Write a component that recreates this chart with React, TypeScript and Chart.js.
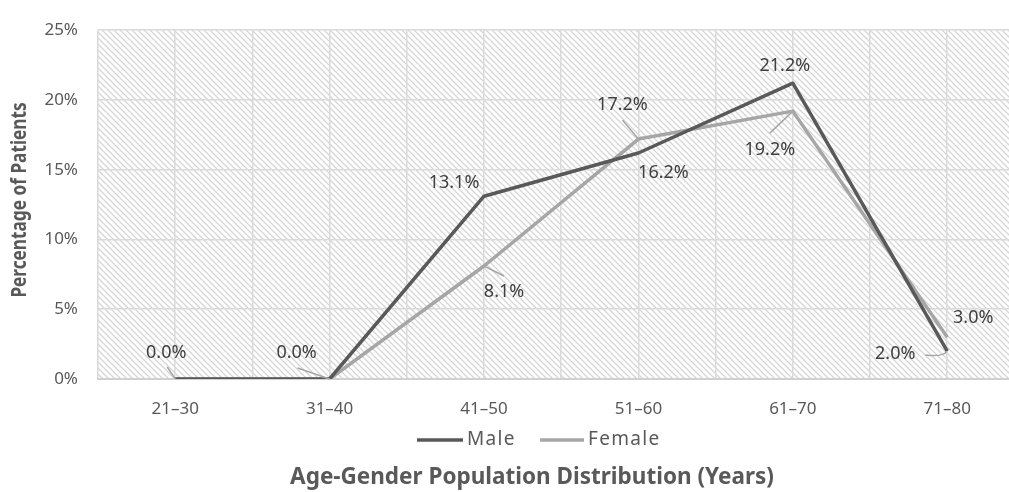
import { useEffect, useRef } from 'react';
import { Chart, registerables } from 'chart.js';

Chart.register(...registerables);

// Age bands and share of patients (%) per gender
const ageGroups = ['21–30', '31–40', '41–50', '51–60', '61–70', '71–80'];
const malePct = [0.0, 0.0, 13.1, 16.2, 21.2, 2.0];
const femalePct = [0.0, 0.0, 8.1, 17.2, 19.2, 3.0];
const yTickValues = [0, 5, 10, 15, 20, 25];

const seriesNames = ['Male', 'Female'];
const seriesColors = ['#595959', '#a6a6a6'];

const xTitle = 'Age-Gender Population Distribution (Years)';
const yTitle = 'Percentage of Patients';

// Data-label placement relative to each point (px); leader = start of callout line
type LabelPlace = { dx: number; dy: number; leader?: [number, number]; curve?: boolean } | null;
const maleLabelPlaces: LabelPlace[] = [
  { dx: -9, dy: -26, leader: [-8, -12] },
  { dx: -33, dy: -26, leader: [-32, -11] },
  { dx: -30, dy: -13 },
  { dx: 25, dy: 20 },
  { dx: -8, dy: -17 },
  { dx: -52, dy: 3, leader: [-22, 4], curve: true },
];
const femaleLabelPlaces: LabelPlace[] = [
  null,
  null,
  { dx: 20, dy: 26, leader: [20, 10] },
  { dx: -16, dy: -34, leader: [-16, -19] },
  { dx: -23, dy: 39, leader: [-23, 22] },
  { dx: 26, dy: -19 },
];

const FONT = "'Noto Sans', 'DejaVu Sans', sans-serif";
const TEXT = '#404040';
const AXIS_TEXT = '#595959';
const GRID = '#dadada';

function makeHatch(): CanvasPattern | string {
  const c = document.createElement('canvas');
  c.width = 6;
  c.height = 6;
  const g = c.getContext('2d');
  if (!g) return '#f2f2f2';
  g.fillStyle = '#ffffff';
  g.fillRect(0, 0, 6, 6);
  g.strokeStyle = '#d6d6d6';
  g.lineWidth = 1.3;
  g.beginPath();
  for (const k of [-6, 0, 6]) {
    g.moveTo(-1, -1 + k);
    g.lineTo(7, 7 + k);
  }
  g.stroke();
  return g.createPattern(c, 'repeat') || '#f2f2f2';
}

const backgroundPlugin = {
  id: 'hatchBackground',
  beforeDraw(chart: any) {
    const { ctx, chartArea, width, height } = chart;
    ctx.save();
    ctx.fillStyle = '#ffffff';
    ctx.fillRect(0, 0, width, height);
    ctx.fillStyle = makeHatch();
    ctx.fillRect(chartArea.left, chartArea.top, chartArea.right - chartArea.left, chartArea.bottom - chartArea.top);
    ctx.restore();
  },
};

const dataLabelPlugin = {
  id: 'valueLabels',
  afterDatasetsDraw(chart: any) {
    const { ctx } = chart;
    const places = [maleLabelPlaces, femaleLabelPlaces];
    ctx.save();
    chart.data.datasets.forEach((ds: any, di: number) => {
      const meta = chart.getDatasetMeta(di);
      meta.data.forEach((pt: any, i: number) => {
        const place = places[di][i];
        if (!place) return;
        const v = ds.data[i].y as number;
        const px = pt.x;
        const py = pt.y;
        if (place.leader) {
          ctx.strokeStyle = '#a6a6a6';
          ctx.lineWidth = 1.5;
          ctx.beginPath();
          const sx = px + place.leader[0];
          const sy = py + place.leader[1];
          ctx.moveTo(sx, sy);
          if (place.curve) {
            ctx.quadraticCurveTo(px - 4, py + 6, px, py);
          } else {
            ctx.lineTo(px, py);
          }
          ctx.stroke();
        }
        ctx.fillStyle = TEXT;
        ctx.font = `18px ${FONT}`;
        ctx.textAlign = 'center';
        ctx.textBaseline = 'middle';
        ctx.fillText(`${v.toFixed(1)}%`, px + place.dx, py + place.dy);
      });
    });
    ctx.restore();
  },
};

const decorPlugin = {
  id: 'legendAndTitles',
  afterDraw(chart: any) {
    const { ctx, chartArea } = chart;
    ctx.save();
    // legend
    const legendY = 440;
    const entries = [
      { x0: 417, x1: 463, tx: 467 },
      { x0: 540, x1: 584, tx: 588 },
    ];
    ctx.font = `19px ${FONT}`;
    (ctx as any).letterSpacing = '1.3px';
    ctx.textAlign = 'left';
    ctx.textBaseline = 'middle';
    entries.forEach((e, i) => {
      ctx.strokeStyle = seriesColors[i];
      ctx.lineWidth = 3.5;
      ctx.beginPath();
      ctx.moveTo(e.x0, legendY);
      ctx.lineTo(e.x1, legendY);
      ctx.stroke();
      ctx.fillStyle = AXIS_TEXT;
      ctx.fillText(seriesNames[i], e.tx, legendY);
    });
    (ctx as any).letterSpacing = '0px';
    // x-axis title
    ctx.fillStyle = AXIS_TEXT;
    ctx.font = `bold 22.5px ${FONT}`;
    ctx.textAlign = 'center';
    ctx.fillText(xTitle, 532, 478);
    // y-axis title (condensed)
    ctx.translate(20, 200);
    ctx.rotate(-Math.PI / 2);
    ctx.scale(0.82, 1);
    ctx.font = `bold 21px ${FONT}`;
    ctx.fillText(yTitle, 0, 0);
    ctx.restore();
  },
};

export default function App() {
  const ref = useRef<HTMLCanvasElement | null>(null);

  useEffect(() => {
    if (!ref.current) return;
    const toPoints = (arr: number[]) => arr.map((y, i) => ({ x: i, y }));
    const chart = new Chart(ref.current, {
      type: 'line',
      data: {
        datasets: [
          {
            label: seriesNames[0],
            data: toPoints(malePct),
            borderColor: seriesColors[0],
            backgroundColor: seriesColors[0],
            borderWidth: 3.5,
            pointRadius: 0,
            tension: 0,
            borderJoinStyle: 'round',
          },
          {
            label: seriesNames[1],
            data: toPoints(femalePct),
            borderColor: seriesColors[1],
            backgroundColor: seriesColors[1],
            borderWidth: 3.5,
            pointRadius: 0,
            tension: 0,
            borderJoinStyle: 'round',
          },
        ],
      },
      options: {
        responsive: false,
        animation: false,
        layout: { padding: { top: 26, right: 0, left: 0, bottom: 0 } },
        plugins: {
          legend: { display: false },
          tooltip: { enabled: false },
          title: { display: false },
        },
        scales: {
          x: {
            type: 'linear',
            min: -0.5,
            max: 5.4,
            afterFit: (s: any) => {
              s.height = 113;
            },
            grid: { color: GRID, lineWidth: 1.5, drawTicks: false },
            border: { color: '#d0d0d0', width: 2 },
            ticks: {
              stepSize: 0.5,
              includeBounds: false,
              autoSkip: false,
              maxRotation: 0,
              padding: 20,
              color: AXIS_TEXT,
              font: { family: FONT, size: 17 },
              callback: (v: any) => {
                const n = Number(v);
                return Number.isInteger(n) && n >= 0 && n < ageGroups.length ? ageGroups[n] : '';
              },
            },
          },
          y: {
            min: yTickValues[0],
            max: yTickValues[yTickValues.length - 1],
            afterFit: (s: any) => {
              s.width = 98;
            },
            afterBuildTicks: (s: any) => {
              s.ticks = yTickValues.map((value) => ({ value }));
            },
            grid: { color: GRID, lineWidth: 1.5, drawTicks: false },
            border: { display: false },
            ticks: {
              padding: 20,
              color: AXIS_TEXT,
              font: { family: FONT, size: 17 },
              callback: (v: any) => `${v}%`,
            },
          },
        },
      },
      plugins: [backgroundPlugin, dataLabelPlugin, decorPlugin],
    } as any);
    return () => chart.destroy();
  }, []);

  return (
    <div style={{ position: 'fixed', left: 0, top: 0, width: 1009, height: 492, background: '#fff' }}>
      <canvas ref={ref} width={1009} height={492} style={{ display: 'block' }} />
    </div>
  );
}
